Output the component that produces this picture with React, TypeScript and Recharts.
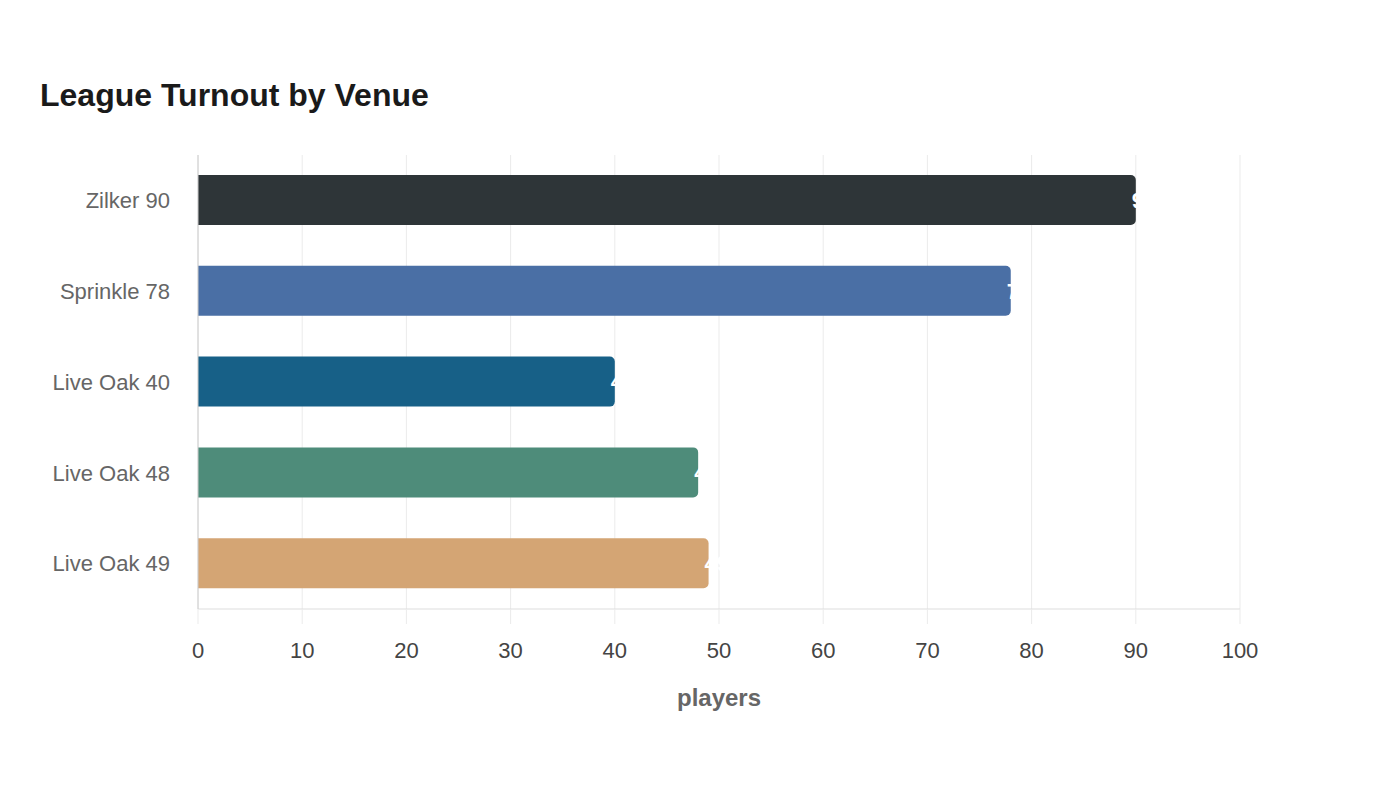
import React from 'react';
import { BarChart, Bar, XAxis, YAxis, CartesianGrid, Cell, LabelList } from 'recharts';

const venues = ['Zilker 90', 'Sprinkle 78', 'Live Oak 40', 'Live Oak 48', 'Live Oak 49'];
const players = [90, 78, 40, 48, 49];
const barColors = ['#2e3538', '#4a6fa5', '#176087', '#4e8c7a', '#d4a574'];
const xTicks = [0, 10, 20, 30, 40, 50, 60, 70, 80, 90, 100];

const data = venues.map((v, i) => ({ venue: v, players: players[i] }));

const FONT = '"Liberation Sans", Arial, Helvetica, sans-serif';

const EndLabel = (props: any) => {
  const { x, y, width, height, value } = props;
  return (
    <text
      x={x + width - 4}
      y={y + height / 2}
      dy="0.35em"
      textAnchor="start"
      fill="#ffffff"
      fontFamily={FONT}
      fontSize={22}
      fontWeight="bold"
    >
      {value}
    </text>
  );
};

export default function App() {
  return (
    <div style={{ position: 'absolute', left: 0, top: 0, width: 1400, height: 800, background: '#fff', fontFamily: FONT }}>
      <div style={{ position: 'absolute', left: 40, top: 76, fontSize: 32, fontWeight: 'bold', color: '#1a1a1a', lineHeight: '38px' }}>
        League Turnout by Venue
      </div>
      <div style={{ position: 'absolute', left: 0, top: 0 }}>
        <BarChart
          width={1400}
          height={800}
          data={data}
          layout="vertical"
          margin={{ top: 155, right: 160, bottom: 76, left: 0 }}
          barCategoryGap={40}
        >
          <CartesianGrid horizontal={false} vertical={true} stroke="#ebebeb" />
          <XAxis
            type="number"
            dataKey="players"
            domain={[0, 100]}
            ticks={xTicks}
            interval={0}
            axisLine={{ stroke: '#dddddd' }}
            tickLine={{ stroke: '#ebebeb' }}
            tickSize={15}
            tickMargin={18}
            tick={{ fill: '#444', fontSize: 22, fontFamily: FONT }}
            height={115}
            label={{ value: 'players', position: 'insideTop', offset: 80, fill: '#666', fontSize: 24, fontWeight: 'bold', fontFamily: FONT }}
          />
          <YAxis
            type="category"
            dataKey="venue"
            width={198}
            axisLine={{ stroke: '#cccccc' }}
            tickLine={false}
            tickMargin={22}
            tick={{ fill: '#666', fontSize: 22, fontFamily: FONT }}
          />
          <Bar dataKey="players" isAnimationActive={false} radius={[0, 5, 5, 0]} barSize={50}>
            {data.map((d, i) => (
              <Cell key={d.venue} fill={barColors[i]} />
            ))}
            <LabelList dataKey="players" content={<EndLabel />} />
          </Bar>
        </BarChart>
      </div>
    </div>
  );
}
